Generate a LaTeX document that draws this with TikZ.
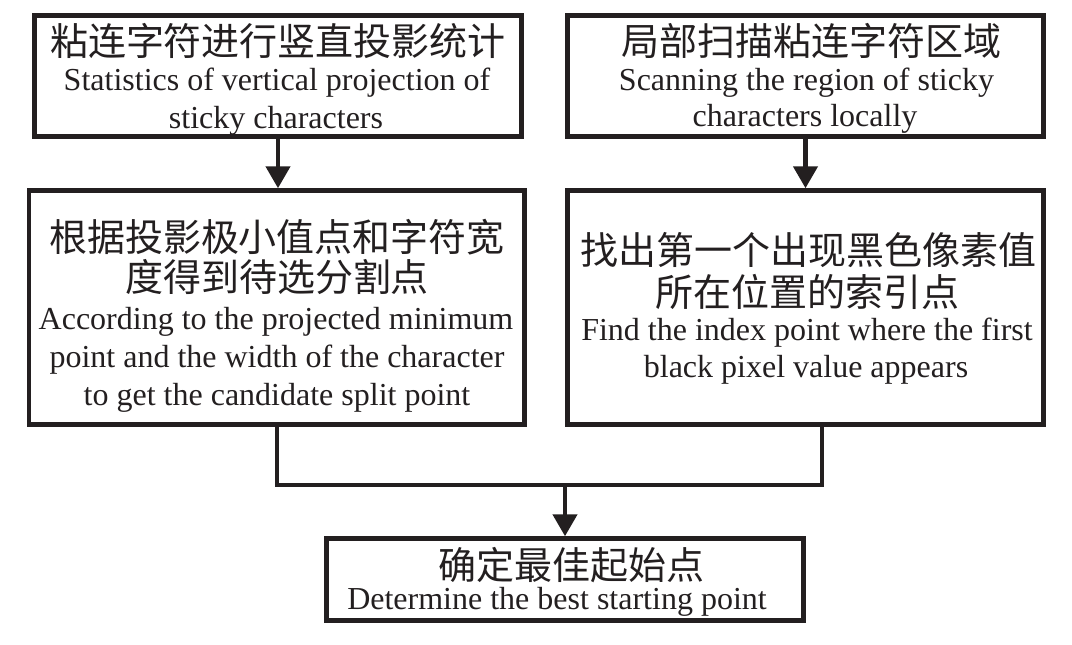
\documentclass[tikz,border=0pt]{standalone}
\usepackage{fontspec}
\setmainfont{Liberation Serif}
\newfontfamily\cjk{Noto Sans CJK SC}
\usetikzlibrary{arrows.meta}
\definecolor{ink}{HTML}{231F20}
\tikzset{
  box/.style={draw=ink, line width=4.5pt, inner sep=0pt, fill=white},
  cn/.style={inner sep=0pt, anchor=center, text=ink, font=\cjk\fontsize{38pt}{40pt}\selectfont},
  en/.style={inner sep=0pt, anchor=base, text=ink, font=\fontsize{32pt}{38pt}\selectfont},
  conn/.style={draw=ink, line width=4.5pt},
  arrowconn/.style={conn, -{Triangle[length=22pt,width=24pt]}},
}
\begin{document}
\begin{tikzpicture}[x=1pt,y=-1pt]
\useasboundingbox[fill=white] (0,0) rectangle (1072,645);
% boxes
\node[box, minimum width=487pt, minimum height=121pt] (b1) at (278,76) {};
\node[box, minimum width=476pt, minimum height=121pt] (b2) at (805.5,76) {};
\node[box, minimum width=495.5pt, minimum height=234pt] (b3) at (276.75,307.5) {};
\node[box, minimum width=476pt, minimum height=234pt] (b4) at (805.5,307.5) {};
\node[box, minimum width=477pt, minimum height=82pt] (b5) at (565,579.5) {};
% texts box 1
\node[cn] (t1a) at (278,40.5) {粘连字符进行竖直投影统计};
\node[en] (t1b) at (277,90) {Statistics of vertical projection of};
\node[en] (t1c) at (276,128) {sticky characters};
% texts box 2
\node[cn] (t2a) at (811.5,40.7) {局部扫描粘连字符区域};
\node[en] (t2b) at (806.5,90) {Scanning the region of sticky};
\node[en] (t2c) at (805,126) {characters locally};
% texts box 3
\node[cn] (t3a) at (277,237) {根据投影极小值点和字符宽};
\node[cn] (t3b) at (277,277) {度得到待选分割点};
\node[en] (t3c) at (276,329) {According to the projected minimum};
\node[en] (t3d) at (277,367.5) {point and the width of the character};
\node[en] (t3e) at (277,405) {to get the candidate split point};
% texts box 4
\node[cn] (t4a) at (808,250.5) {找出第一个出现黑色像素值};
\node[cn] (t4b) at (807,292) {所在位置的索引点};
\node[en] (t4c) at (807,340) {Find the index point where the first};
\node[en] (t4d) at (806,377) {black pixel value appears};
% texts box 5
\node[cn] (t5a) at (571,565) {确定最佳起始点};
\node[en] (t5b) at (557,609) {Determine the best starting point};
% connectors
\draw[arrowconn] (b1.south) -- (b1.south |- b3.north);
\draw[arrowconn] (b2.south) -- (b4.north);
\coordinate (jr) at (822,485);
\draw[conn] (b3.south) |- (jr) -- (jr |- b4.south);
\draw[arrowconn] (b5.north |- jr) -- (b5.north);
\end{tikzpicture}
\end{document}
